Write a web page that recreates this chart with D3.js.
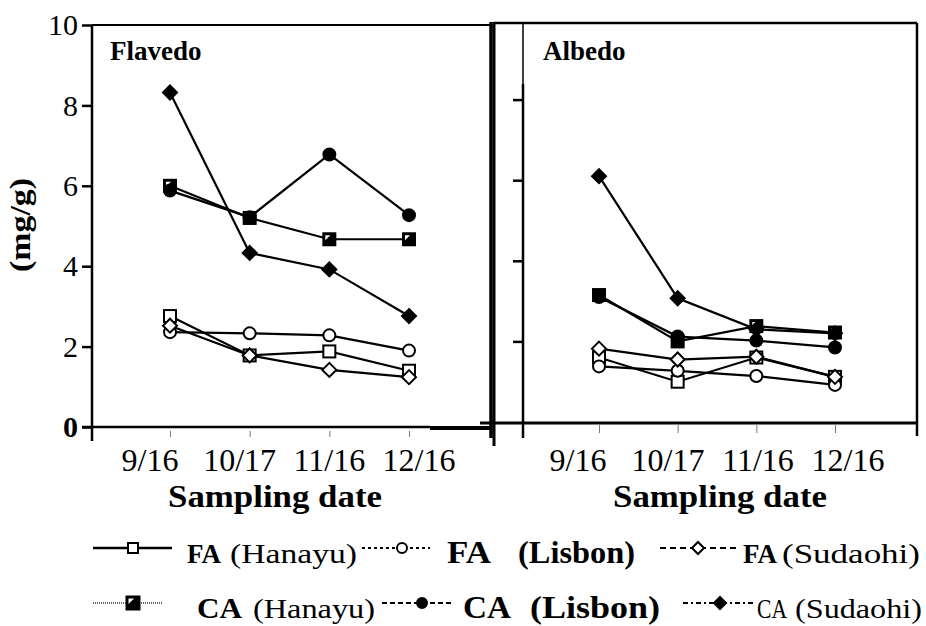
<!DOCTYPE html>
<html>
<head>
<meta charset="utf-8">
<script src="https://cdn.jsdelivr.net/npm/d3@7"></script>
<style>
  body { margin: 0; background: #fff; }
  svg { display: block; }
  text { font-family: "Liberation Serif", "Times New Roman", serif; fill: #000; }
</style>
</head>
<body>
<div id="chart"></div>
<script>
// sampling dates
const dates = ["9/16", "10/17", "11/16", "12/16"];
const yTicks = [0, 2, 4, 6, 8, 10];

// Flavedo (mg/g)
const flavFAHanayu  = [2.76, 1.78, 1.88, 1.40];
const flavFALisbon  = [2.36, 2.33, 2.28, 1.90];
const flavFASudaohi = [2.52, 1.78, 1.42, 1.24];
const flavCAHanayu  = [6.00, 5.20, 4.67, 4.67];
const flavCALisbon  = [5.88, 5.22, 6.78, 5.27];
const flavCASudaohi = [8.32, 4.33, 3.92, 2.76];

// Albedo (mg/g)
const albFAHanayu  = [1.60, 1.00, 1.60, 1.12];
const albFALisbon  = [1.38, 1.27, 1.14, 0.92];
const albFASudaohi = [1.82, 1.55, 1.62, 1.12];
const albCAHanayu  = [3.15, 2.00, 2.38, 2.22];
const albCALisbon  = [3.10, 2.12, 2.02, 1.85];
const albCASudaohi = [6.10, 3.07, 2.30, 2.20];

const seriesKeys   = ["FAHanayu", "FALisbon", "FASudaohi", "CAHanayu", "CALisbon", "CASudaohi"];
const seriesSymbol = ["square", "circle", "diamond", "square", "circle", "diamond"];
const seriesFilled = [false, false, false, true, true, true];

const flavedo = [flavFAHanayu, flavFALisbon, flavFASudaohi, flavCAHanayu, flavCALisbon, flavCASudaohi];
const albedo  = [albFAHanayu, albFALisbon, albFASudaohi, albCAHanayu, albCALisbon, albCASudaohi];

const svg = d3.select("#chart").append("svg")
  .attr("width", 926)
  .attr("height", 626);

function marker(g, type, filled, cx, cy, s) {
  if (type == "square") {
    g.append("rect")
      .attr("x", cx - s / 2).attr("y", cy - s / 2)
      .attr("width", s).attr("height", s)
      .attr("fill", filled ? "#000" : "#fff")
      .attr("stroke", "#000").attr("stroke-width", 2);
    if (filled) {
      // small white notch seen on the filled squares
      g.append("path")
        .attr("d", `M${cx - s / 2 + 2},${cy + 1}L${cx - s / 2 + 2},${cy - s / 2 + 2}L${cx + 1},${cy - s / 2 + 2}Z`)
        .attr("fill", "#fff");
    }
  } else if (type == "circle") {
    g.append("circle")
      .attr("cx", cx).attr("cy", cy).attr("r", s / 2)
      .attr("fill", filled ? "#000" : "#fff")
      .attr("stroke", "#000").attr("stroke-width", 2);
  } else {
    const r = s / 2 + 1;
    g.append("path")
      .attr("d", `M${cx},${cy - r}L${cx + r},${cy}L${cx},${cy + r}L${cx - r},${cy}Z`)
      .attr("fill", filled ? "#000" : "#fff")
      .attr("stroke", "#000").attr("stroke-width", 2);
  }
}

function panel(values, opt) {
  const g = svg.append("g");

  const x = d3.scalePoint().domain(dates).range(opt.xRange);
  const xl = d3.scalePoint().domain(dates).range(opt.labelRange);
  const y = d3.scaleLinear().domain([0, 10]).range(opt.yRange);

  // y axis ticks
  const yAxis = d3.axisLeft(y)
    .tickValues(opt.showLabels ? yTicks : [2, 4, 6, 8])
    .tickSize(10)
    .tickPadding(4)
    .tickFormat(opt.showLabels ? d3.format("d") : "");
  const ya = g.append("g")
    .attr("transform", `translate(${opt.axisX},0)`)
    .call(yAxis);
  ya.select(".domain").remove();
  ya.selectAll(".tick line").attr("stroke", "#000").attr("stroke-width", 2.5);
  ya.selectAll(".tick text")
    .style("font-family", "'Liberation Serif', serif")
    .style("font-size", "30px")
    .style("font-weight", d => d == 0 ? "bold" : "normal");

  // x axis (thin grey ticks, labels drawn separately)
  const xa = g.append("g")
    .attr("transform", `translate(0,${opt.xTickY})`)
    .call(d3.axisBottom(x).tickSize(opt.xTickLen).tickFormat(""));
  xa.select(".domain").remove();
  xa.selectAll(".tick line").attr("stroke", "#777").attr("stroke-width", 1);

  g.selectAll(".xlab")
    .data(dates)
    .join("text")
    .attr("class", "xlab")
    .attr("x", d => xl(d))
    .attr("y", 471)
    .attr("text-anchor", "middle")
    .style("font-size", "32px")
    .text(d => d);

  g.append("text")
    .attr("x", opt.titleX)
    .attr("y", 507)
    .attr("text-anchor", "middle")
    .attr("textLength", 214)
    .attr("lengthAdjust", "spacingAndGlyphs")
    .style("font-size", "32px")
    .style("font-weight", "bold")
    .text("Sampling date");

  g.append("text")
    .attr("x", opt.nameX)
    .attr("y", 60)
    .style("font-size", "27px")
    .style("font-weight", "bold")
    .text(opt.name);

  // frame
  opt.frame.forEach(f => {
    g.append("line")
      .attr("x1", f[0]).attr("y1", f[1]).attr("x2", f[2]).attr("y2", f[3])
      .attr("stroke", "#000").attr("stroke-width", f[4]);
  });

  // series
  const line = d3.line().x((d, i) => x(dates[i])).y(d => y(d));
  values.forEach((vals, k) => {
    g.append("path")
      .attr("d", line(vals))
      .attr("fill", "none")
      .attr("stroke", "#000")
      .attr("stroke-width", 2.2);
  });
  values.forEach((vals, k) => {
    vals.forEach((v, i) => marker(g, seriesSymbol[k], seriesFilled[k], x(dates[i]), y(v), 12));
  });
}

panel(flavedo, {
  name: "Flavedo", nameX: 110,
  xRange: [170, 409], labelRange: [150, 419],
  yRange: [427, 25], axisX: 92, showLabels: true,
  xTickY: 431, xTickLen: 6, titleX: 275,
  frame: [
    [92, 25, 92, 441, 2.5],
    [92, 25, 491, 25, 2],
    [491, 22, 491, 438, 3.5],
    [82, 427, 430, 427, 2.5],
    [430, 428, 491, 428, 4]
  ]
});

panel(albedo, {
  name: "Albedo", nameX: 543,
  xRange: [599, 835], labelRange: [578, 848],
  yRange: [422, 19], axisX: 523, showLabels: false,
  xTickY: 425, xTickLen: 8, titleX: 720,
  frame: [
    [494, 22, 494, 446, 3],
    [523, 23, 523, 84, 1.5],
    [523, 84, 523, 438, 2.5],
    [494, 23, 917, 23, 2.5],
    [917, 23, 917, 436, 2.5],
    [480, 423, 917, 423, 3]
  ]
});

// y axis title
svg.append("text")
  .attr("transform", "translate(30,225) rotate(-90)")
  .attr("text-anchor", "middle")
  .attr("textLength", 94)
  .attr("lengthAdjust", "spacingAndGlyphs")
  .style("font-size", "30px")
  .style("font-weight", "bold")
  .text("(mg/g)");

// legend
const legendDash = ["", "3,3", "6,4", "1,1", "5,3", "5,3,2,3"];
const legendWidth = [2.5, 2, 2, 2, 2, 2];
const legendColor = ["#000", "#000", "#000", "#666", "#000", "#000"];
const legendLayout = [
  { y: 548, x1: 93, x2: 172, mx: 133, parts: [[187, "FA", true, 34, 28], [230, "(Hanayu)", false, 127, 28]] },
  { y: 548, x1: 362, x2: 430, mx: 402, parts: [[447, "FA", true, 44, 32], [518, "(Lisbon)", true, 117, 32]] },
  { y: 548, x1: 660, x2: 737, mx: 698, parts: [[743, "FA", true, 34, 28], [782, "(Sudaohi)", false, 138, 28]] },
  { y: 603, x1: 93, x2: 163, mx: 133, parts: [[197, "CA", true, 45, 30], [253, "(Hanayu)", false, 122, 28]] },
  { y: 603, x1: 382, x2: 453, mx: 422, parts: [[463, "CA", true, 48, 32], [530, "(Lisbon)", true, 130, 32]] },
  { y: 603, x1: 683, x2: 755, mx: 720, parts: [[757, "CA", false, 30, 28], [795, "(Sudaohi)", false, 127, 28]] }
];

const leg = svg.append("g");
legendLayout.forEach((L, k) => {
  leg.append("line")
    .attr("x1", L.x1).attr("x2", L.x2).attr("y1", L.y).attr("y2", L.y)
    .attr("stroke", legendColor[k])
    .attr("stroke-width", legendWidth[k])
    .attr("stroke-dasharray", legendDash[k] || null);
  marker(leg, seriesSymbol[k], seriesFilled[k], L.mx, L.y, k == 3 ? 13 : 10);
  L.parts.forEach(p => {
    leg.append("text")
      .attr("x", p[0])
      .attr("y", L.y + 15)
      .attr("textLength", p[3])
      .attr("lengthAdjust", "spacingAndGlyphs")
      .style("font-size", p[4] + "px")
      .style("font-weight", p[2] ? "bold" : "normal")
      .text(p[1]);
  });
});
</script>
</body>
</html>
